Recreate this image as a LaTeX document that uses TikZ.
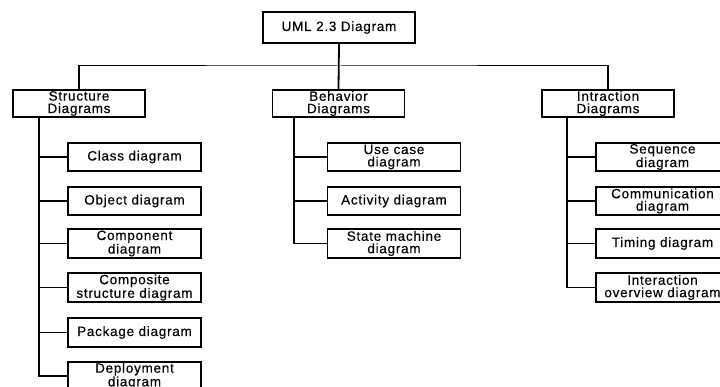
\documentclass[tikz,border=0pt]{standalone}
\usepackage{fontspec}
\setmainfont{Liberation Sans}[LetterSpace=5.5,FakeBold=0.3]
\begin{document}
\begin{tikzpicture}[x=1pt,y=-1pt,
  box/.style={draw=black,line width=1.8pt,fill=white,inner sep=0pt,align=center,
    font=\fontsize{13.5}{12.4}\selectfont},
  topbox/.style={box,minimum width=152pt,minimum height=31pt},
  catbox/.style={box,minimum width=132pt,minimum height=27pt},
  leafbox/.style={box,minimum width=133pt,minimum height=28.5pt},
  conn/.style={line width=1.8pt,line cap=rect},
  busline/.style={line width=1pt}]
\useasboundingbox (0,0) rectangle (720,387);
\clip (0,0) rectangle (720,387);
% nodes
\node[topbox] (top) at (339,27.5) {UML 2.3 Diagram};
\node[catbox] (struct) at (79,103.5) {Structure\\Diagrams};
\node[catbox] (behav) at (338.5,103.5) {Behavior\\Diagrams};
\node[catbox] (intr) at (608,103.5) {Intraction\\Diagrams};
% structure children
\node[leafbox] (class) at (134.5,157) {Class diagram};
\node[leafbox] (object) at (134.5,201) {Object diagram};
\node[leafbox] (component) at (134.5,243.5) {Component\\diagram};
\node[leafbox] (composite) at (134.5,287.5) {Composite\\structure diagram};
\node[leafbox] (package) at (134.5,332.5) {Package diagram};
\node[leafbox] (deploy) at (134.5,376) {Deployment\\diagram};
% behavior children
\node[leafbox] (usecase) at (394,157) {Use case\\diagram};
\node[leafbox] (activity) at (394,201) {Activity diagram};
\node[leafbox] (state) at (394,243.5) {State machine\\diagram};
% interaction children
\node[leafbox] (sequence) at (662.5,157) {Sequence\\diagram};
\node[leafbox] (communication) at (662.5,201) {Communication\\diagram};
\node[leafbox] (timing) at (662.5,243.5) {Timing diagram};
\node[leafbox] (overview) at (662.5,287.5) {Interaction\\overview diagram};
% bus
\coordinate (bus) at (339,66);
\draw[conn] (top.south) -- (behav.north);
\draw[busline] (struct.north) |- (bus) -| (intr.north);
\draw[conn] (struct.north) -- (struct.north |- bus);
\draw[conn] (intr.north) -- (intr.north |- bus);
% trunks
\coordinate (sT) at (39,117);
\coordinate (bT) at (294,117);
\coordinate (iT) at (567,117);
\draw[conn,line cap=butt] (sT) |- (deploy.west);
\foreach \n in {class,object,component,composite,package}
  \draw[conn,line cap=butt] (sT |- \n.west) -- (\n.west);
\draw[conn,line cap=butt] (bT) |- (state.west);
\foreach \n in {usecase,activity}
  \draw[conn,line cap=butt] (bT |- \n.west) -- (\n.west);
\draw[conn,line cap=butt] (iT) |- (overview.west);
\foreach \n in {sequence,communication,timing}
  \draw[conn,line cap=butt] (iT |- \n.west) -- (\n.west);
\end{tikzpicture}
\end{document}
